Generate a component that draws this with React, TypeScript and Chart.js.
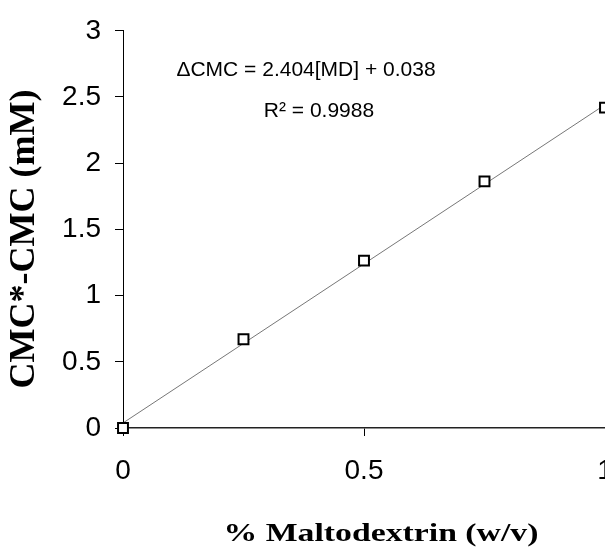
import React, { useEffect, useRef } from "react";
import { Chart, registerables } from "chart.js";

Chart.register(...registerables);

const maltodextrin = [0, 0.25, 0.5, 0.75, 1];
const deltaCMC = [0, 0.67, 1.264, 1.863, 2.42];
const fitX = [0, 1];
const fitY = [0.038, 2.442];
const yTicks = [0, 0.5, 1, 1.5, 2, 2.5, 3];
const xTicks = [0, 0.5, 1];
const equationText = "\u0394CMC = 2.404[MD] + 0.038";
const r2Text = "R\u00B2 = 0.9988";
const xTitle = "% Maltodextrin (w/v)";
const yTitle = "CMC*-CMC (mM)";

const textPlugin = {
  id: "textPlugin",
  afterDraw(chart: any) {
    const ctx = chart.ctx as CanvasRenderingContext2D;
    ctx.save();
    ctx.fillStyle = "#000";
    ctx.textAlign = "center";
    ctx.textBaseline = "middle";
    ctx.font = "21px 'Liberation Sans', Arial, sans-serif";
    ctx.fillText(equationText, 306, 70);
    ctx.fillText(r2Text, 319, 111);
    ctx.save();
    ctx.translate(381, 535);
    ctx.scale(1.35, 1);
    ctx.font = "bold 25px 'Liberation Serif', 'Times New Roman', serif";
    ctx.fillText(xTitle, 0, 0);
    ctx.restore();
    ctx.save();
    ctx.translate(25, 239);
    ctx.rotate(-Math.PI / 2);
    ctx.font = "bold 36px 'Liberation Serif', 'Times New Roman', serif";
    ctx.fillText(yTitle, 0, 0);
    ctx.restore();
    ctx.restore();
  },
};

export default function App() {
  const ref = useRef<HTMLCanvasElement>(null);
  useEffect(() => {
    if (!ref.current) return;
    const chart = new Chart(ref.current, {
      type: "scatter",
      data: {
        datasets: [
          {
            type: "line",
            data: fitX.map((x, i) => ({ x, y: fitY[i] })),
            borderColor: "#777",
            borderWidth: 1,
            pointRadius: 0,
            fill: false,
            order: 2,
          } as any,
          {
            data: maltodextrin.map((x, i) => ({ x, y: deltaCMC[i] })),
            pointStyle: "rect",
            pointRadius: 7,
            pointBorderWidth: 2,
            pointBackgroundColor: "#fff",
            pointBorderColor: "#000",
            clip: false,
            order: 1,
          } as any,
        ],
      },
      options: {
        responsive: false,
        animation: false,
        devicePixelRatio: 1,
        layout: { padding: { top: 24, right: 35, left: 0, bottom: 0 } },
        plugins: { legend: { display: false }, tooltip: { enabled: false } },
        scales: {
          x: {
            type: "linear",
            min: 0,
            max: 1,
            afterBuildTicks: (s: any) => {
              s.ticks = xTicks.map((v) => ({ value: v }));
            },
            afterFit: (s: any) => {
              s.height = 124;
            },
            grid: {
              drawOnChartArea: false,
              drawTicks: true,
              tickLength: 8,
              tickColor: "#000",
            },
            border: { display: true, color: "#222", width: 1.5 },
            ticks: {
              color: "#000",
              padding: 18,
              maxRotation: 0,
              font: { family: "'Liberation Sans', Arial, sans-serif", size: 28 },
              callback: (v: any) => String(v),
            },
          },
          y: {
            type: "linear",
            min: 0,
            max: 3,
            afterBuildTicks: (s: any) => {
              s.ticks = yTicks.map((v) => ({ value: v }));
            },
            afterFit: (s: any) => {
              s.width = 123;
            },
            grid: {
              drawOnChartArea: false,
              drawTicks: true,
              tickLength: 8,
              tickColor: "#000",
            },
            border: { display: true, color: "#000", width: 1 },
            ticks: {
              color: "#000",
              padding: 14,
              font: { family: "'Liberation Sans', Arial, sans-serif", size: 28 },
              callback: (v: any) => String(v),
            },
          },
        },
      },
      plugins: [textPlugin],
    });
    return () => chart.destroy();
  }, []);
  return (
    <div
      style={{
        position: "fixed",
        left: 0,
        top: 0,
        width: 605,
        height: 552,
        overflow: "hidden",
        background: "#fff",
      }}
    >
      <canvas ref={ref} width={640} height={552} style={{ display: "block" }} />
    </div>
  );
}
